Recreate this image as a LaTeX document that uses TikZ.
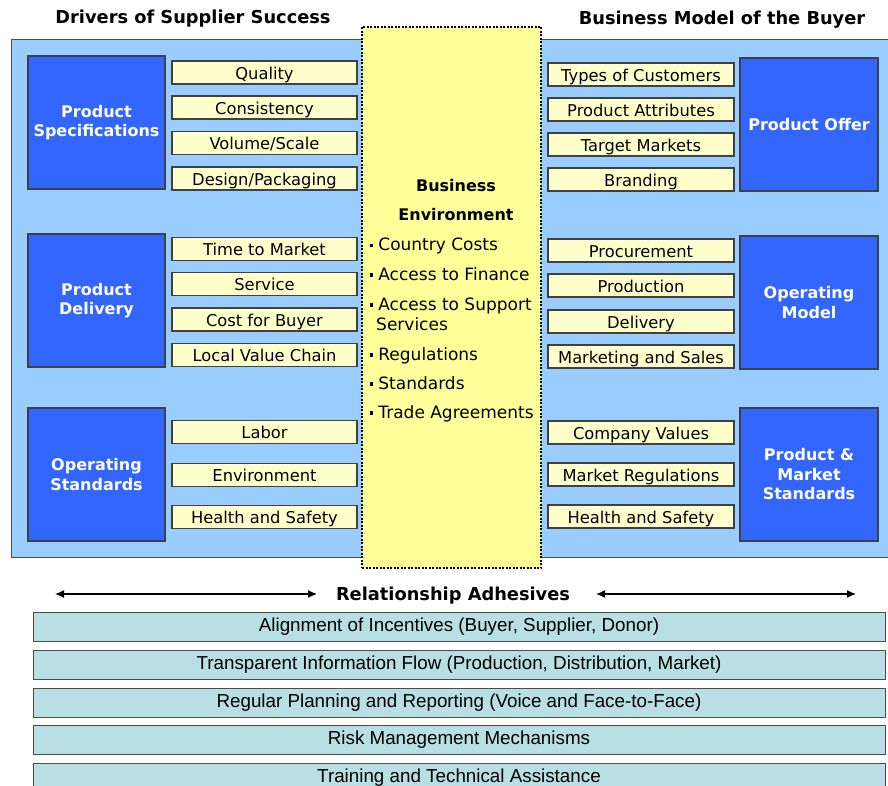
\documentclass[tikz,border=0pt]{standalone}
\usepackage{fontspec}
\setmainfont{DejaVu Sans}
\newfontfamily\barfont{Liberation Sans}
\usetikzlibrary{arrows.meta}
\definecolor{panelblue}{HTML}{99CCFF}
\definecolor{boxblue}{HTML}{3366FF}
\definecolor{lightyel}{HTML}{FFFFCC}
\definecolor{centeryel}{HTML}{FFFF99}
\definecolor{barteal}{HTML}{B8DFE3}
\newcommand{\mybul}{\raisebox{3.5pt}{\rule{3.2pt}{3.2pt}}\hspace{5pt}}
\tikzset{
  ybox/.style={draw=black!75, line width=1.3pt, fill=lightyel, inner sep=0pt,
    minimum height=23, text height=13.5, text depth=0, font=\fontsize{16.3}{19}\selectfont},
  lyb/.style={ybox, minimum width=185},
  ryb/.style={ybox, minimum width=186},
  bbox/.style={draw=black!75, line width=1.3pt, fill=boxblue, text=white, inner sep=0pt,
    align=center, font=\fontsize{16}{19.5}\selectfont\bfseries},
  title/.style={font=\fontsize{17.8}{21}\selectfont\bfseries, inner sep=0pt},
  ctext/.style={font=\fontsize{17}{20}\selectfont, inner sep=0pt, anchor=base west},
  chead/.style={font=\fontsize{16}{20}\selectfont\bfseries, inner sep=0pt, anchor=base},
  bar/.style={draw=black!70, line width=1pt, fill=barteal, minimum width=852, minimum height=29,
    inner sep=0pt, font=\barfont\fontsize{18.8}{22}\selectfont},
  arr/.style={line width=1.3pt, {Latex[length=9pt,width=8pt]}-{Latex[length=9pt,width=8pt]}}
}
\begin{document}
\begin{tikzpicture}[x=1pt,y=-1pt]
\useasboundingbox (0,0) rectangle (888,786);
% titles
\node[title] (t1) at (193,19) {Drivers of Supplier Success};
\node[title] (t2) at (722,20) {Business Model of the Buyer};
% panel
\node[draw=black!70, line width=1pt, fill=panelblue, minimum width=878, minimum height=517, inner sep=0pt] (panel) at (450,298.5) {};
% center box
\node[draw=black, line width=1.5pt, dash pattern=on 2pt off 1.5pt, fill=centeryel, minimum width=179, minimum height=541, inner sep=0pt] (env) at (451.5,297.5) {};
\node[chead] (envh1) at (456,192) {Business};
\node[chead] (envh2) at (456,221) {Environment};
\node[ctext] (e1) at (370,251) {\mybul Country Costs};
\node[ctext] (e2) at (370,280) {\mybul Access to Finance};
\node[ctext] (e3) at (370,310) {\mybul Access to Support};
\node[ctext] (e3b) at (376,330) {Services};
\node[ctext] (e4) at (370,360) {\mybul Regulations};
\node[ctext] (e5) at (370,389) {\mybul Standards};
\node[ctext] (e6) at (370,418) {\mybul Trade Agreements};
% left blue boxes
\node[bbox, minimum width=137, minimum height=133] (ps) at (96.5,122.5) {Product\\Specifications};
\node[bbox, minimum width=137, minimum height=133] (pd) at (96.5,300.5) {Product\\Delivery};
\node[bbox, minimum width=137, minimum height=133] (os) at (96.5,474.5) {Operating\\Standards};
% left yellow boxes
\node[lyb] (l1) at (264.5,72.5) {Quality};
\node[lyb] (l2) at (264.5,107.5) {Consistency};
\node[lyb] (l3) at (264.5,143) {Volume/Scale};
\node[lyb] (l4) at (264.5,178.5) {Design/Packaging};
\node[lyb] (l5) at (264.5,249) {Time to Market};
\node[lyb] (l6) at (264.5,284) {Service};
\node[lyb] (l7) at (264.5,319.5) {Cost for Buyer};
\node[lyb] (l8) at (264.5,355) {Local Value Chain};
\node[lyb] (l9) at (264.5,432) {Labor};
\node[lyb] (l10) at (264.5,475) {Environment};
\node[lyb] (l11) at (264.5,517) {Health and Safety};
% right yellow boxes
\node[ryb] (r1) at (641,74.5) {Types of Customers};
\node[ryb] (r2) at (641,109.5) {Product Attributes};
\node[ryb] (r3) at (641,144.5) {Target Markets};
\node[ryb] (r4) at (641,179.5) {Branding};
\node[ryb] (r5) at (641,250.5) {Procurement};
\node[ryb] (r6) at (641,285.5) {Production};
\node[ryb] (r7) at (641,321.5) {Delivery};
\node[ryb] (r8) at (641,356.5) {Marketing and Sales};
\node[ryb] (r9) at (641,432.5) {Company Values};
\node[ryb] (r10) at (641,474.5) {Market Regulations};
\node[ryb] (r11) at (641,516.5) {Health and Safety};
% right blue boxes
\node[bbox, minimum width=138, minimum height=133] (po) at (809,124.5) {Product Offer};
\node[bbox, minimum width=138, minimum height=133] (om) at (809,302.5) {Operating\\Model};
\node[bbox, minimum width=138, minimum height=133] (pm) at (809,474.5) {Product \&\\Market\\Standards};
% relationship adhesives
\node[title] (ra) at (453,596) {Relationship Adhesives};
\coordinate (a1) at (55,594);
\coordinate (a2) at (317,594);
\coordinate (a3) at (596,594);
\coordinate (a4) at (856,594);
\draw[arr] (a1) -- (a2);
\draw[arr] (a3) -- (a4);
% bars
\node[bar] (b1) at (459,626.5) {Alignment of Incentives (Buyer, Supplier, Donor)};
\node[bar] (b2) at (459,664.5) {Transparent Information Flow (Production, Distribution, Market)};
\node[bar] (b3) at (459,702.5) {Regular Planning and Reporting (Voice and Face-to-Face)};
\node[bar] (b4) at (459,739.5) {Risk Management Mechanisms};
\node[bar] (b5) at (459,777.5) {Training and Technical Assistance};
\end{tikzpicture}
\end{document}
